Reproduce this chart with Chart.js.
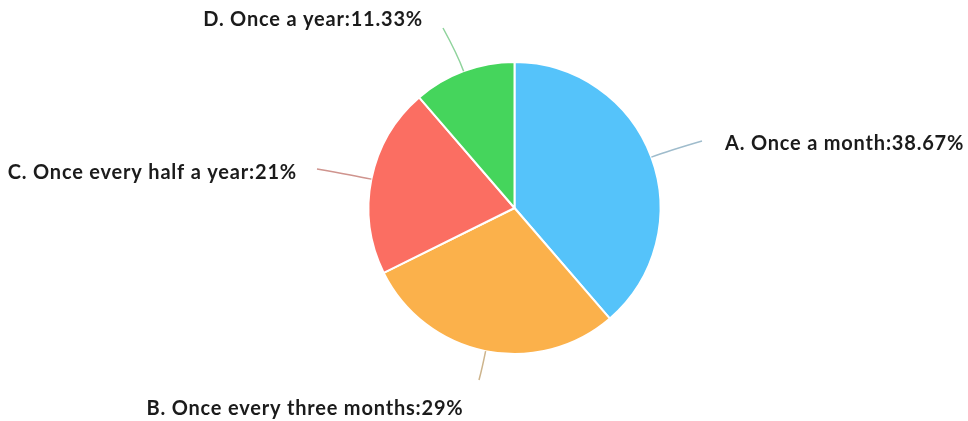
<!DOCTYPE html>
<html>
<head>
<meta charset="utf-8">
<script src="https://cdn.jsdelivr.net/npm/chart.js@4.4.1/dist/chart.umd.min.js"></script>
<style>
  html, body { margin: 0; padding: 0; background: #fff; }
  #wrap { width: 968px; height: 421px; position: relative; }
</style>
</head>
<body>
<div id="wrap"><canvas id="freqChart"></canvas></div>
<script>
// Survey answers: how often
const categories = ["A. Once a month", "B. Once every three months", "C. Once every half a year", "D. Once a year"]
const shares = [38.67, 29, 21, 11.33]
const sliceColors = ["#55c3fa", "#fbb14b", "#fb6e62", "#45d55c"]
const leaderColors = ["#9fbccc", "#cdb48c", "#cf948e", "#8fd39c"]

// Where each label sits: end of the leader line, text anchor and alignment
const labelSpots = [
  { end: [702, 141], text: [725, 144], align: "left" },
  { end: [479, 380], text: [305, 409], align: "center" },
  { end: [317, 169], text: [297, 173], align: "right" },
  { end: [443, 28], text: [423, 20], align: "right" },
]

// Draws the curved leader lines and the "name:value%" labels
const outsideLabels = {
  id: "outsideLabels",
  afterDatasetsDraw(chart) {
    const ctx = chart.ctx
    const meta = chart.getDatasetMeta(0)
    ctx.save()
    meta.data.forEach((arc, i) => {
      const mid = (arc.startAngle + arc.endAngle) / 2
      const r = arc.outerRadius
      const sx = arc.x + Math.cos(mid) * r
      const sy = arc.y + Math.sin(mid) * r
      const cx = arc.x + Math.cos(mid) * (r + 18)
      const cy = arc.y + Math.sin(mid) * (r + 18)
      const spot = labelSpots[i]

      ctx.beginPath()
      ctx.moveTo(sx, sy)
      ctx.quadraticCurveTo(cx, cy, spot.end[0], spot.end[1])
      ctx.strokeStyle = leaderColors[i]
      ctx.lineWidth = 1.5
      ctx.stroke()

      ctx.font = "bold 20px Lato"
      ctx.letterSpacing = "0.8px"
      ctx.fillStyle = "#1b1b1b"
      ctx.textAlign = spot.align
      ctx.textBaseline = "middle"
      ctx.fillText(categories[i] + ":" + shares[i] + "%", spot.text[0], spot.text[1])
    })
    ctx.restore()
  },
}

const freqChart = new Chart(document.getElementById("freqChart"), {
  type: "pie",
  data: {
    labels: categories,
    datasets: [
      {
        data: shares,
        backgroundColor: sliceColors,
        borderColor: "#ffffff",
        borderWidth: 2,
      },
    ],
  },
  options: {
    responsive: true,
    maintainAspectRatio: false,
    animation: false,
    layout: {
      padding: { left: 367, right: 306, top: 61, bottom: 66 },
    },
    plugins: {
      legend: { display: false },
      tooltip: { enabled: false },
    },
  },
  plugins: [outsideLabels],
})
</script>
</body>
</html>
